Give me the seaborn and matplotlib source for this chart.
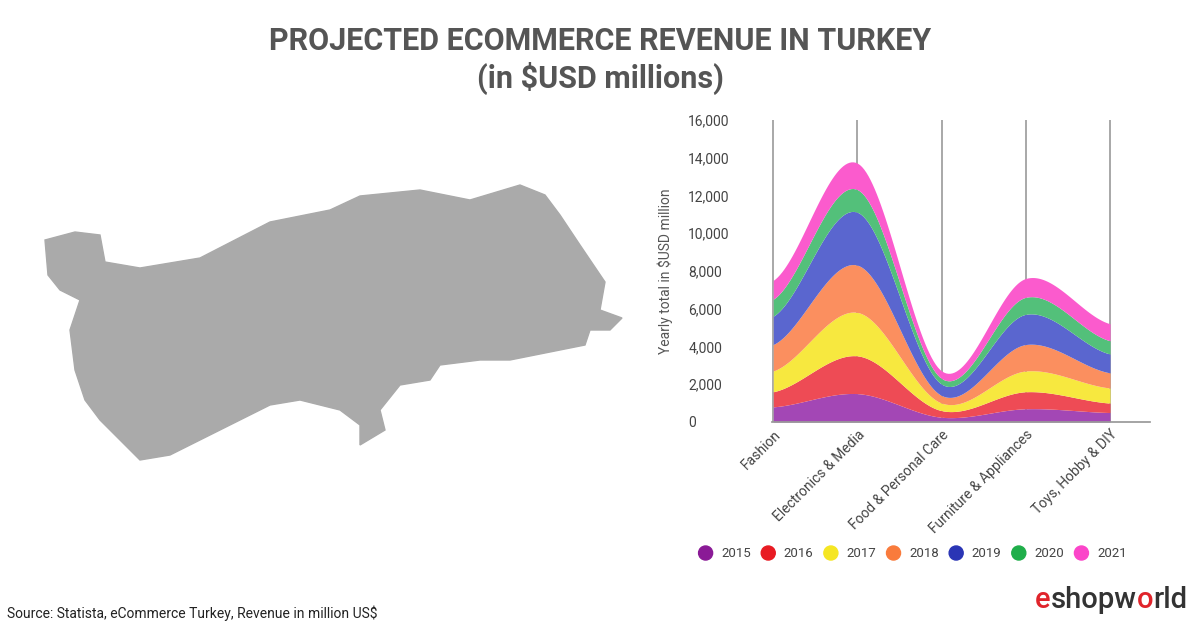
import numpy as np
import matplotlib
matplotlib.use("Agg")
import matplotlib.pyplot as plt
import seaborn as sns
from matplotlib.patches import Polygon, Ellipse

sns.set_theme(style="white")
plt.rcParams['font.family'] = ['Roboto', 'DejaVu Sans']

categories = ["Fashion", "Electronics & Media", "Food & Personal Care", "Furniture & Appliances", "Toys, Hobby & DIY"]
years = ["2015", "2016", "2017", "2018", "2019", "2020", "2021"]
v2015 = [800, 1500, 250, 700, 500]
v2016 = [800, 2000, 350, 900, 500]
v2017 = [1100, 2300, 400, 1100, 800]
v2018 = [1400, 2500, 400, 1400, 800]
v2019 = [1500, 2800, 600, 1600, 1000]
v2020 = [900, 1200, 300, 900, 700]
v2021 = [1000, 1400, 400, 1000, 900]
series = [v2015, v2016, v2017, v2018, v2019, v2020, v2021]
colors = ["#a347b5", "#ee4b55", "#f7e83f", "#fb8f5f", "#5a66cf", "#53c07a", "#fb5bcd"]
legend_colors = ["#8a1a96", "#e81b23", "#f5e623", "#f97b3c", "#2a35b5", "#1fae4a", "#fb45c9"]

fig = plt.figure(figsize=(12, 6.27), dpi=100)

def smooth(y, n=40):
    y = np.asarray(y, float)
    p = np.concatenate([[y[0]], y, [y[-1]]])
    xs, ys = [], []
    for i in range(len(y) - 1):
        p0, p1, p2, p3 = p[i], p[i+1], p[i+2], p[i+3]
        t = np.linspace(0, 1, n, endpoint=False)
        yy = 0.5 * ((2*p1) + (-p0+p2)*t + (2*p0-5*p1+4*p2-p3)*t**2 + (-p0+3*p1-3*p2+p3)*t**3)
        xs.append(i + t); ys.append(yy)
    xs.append([len(y)-1]); ys.append([y[-1]])
    return np.concatenate(xs), np.concatenate(ys)

ax = fig.add_axes([0.643, 0.327, 0.315, 0.482])
cum = np.zeros(len(categories))
prev_s = None
for s, c in zip(series, colors):
    cum = cum + np.array(s)
    xs, top = smooth(cum)
    bottom = np.zeros_like(top) if prev_s is None else prev_s
    ax.fill_between(xs, bottom, top, color=c, lw=0, zorder=2)
    prev_s = top
ax.set_xlim(-0.02, 4.47)
ax.set_ylim(0, 16000)
for i in range(len(categories)):
    ax.axvline(i, color="#999999", lw=1.2, zorder=1)
ax.set_xticks(range(len(categories)))
ax.set_xticklabels(categories, rotation=45, ha="right", rotation_mode="anchor", fontsize=10, color="#444444")
ax.set_yticks(np.arange(0, 16001, 2000))
ax.set_yticklabels([f"{v:,}" for v in range(0, 16001, 2000)], fontsize=10, color="#444444")
ax.tick_params(axis="y", pad=60, length=0)
ax.tick_params(axis="x", length=0, pad=4)
for yl in ax.get_yticklabels():
    yl.set_ha("left")
ax.set_ylabel("Yearly total in $USD million", fontsize=10, color="#555555")
ax.yaxis.set_label_coords(-0.26, 0.5)
for sp in ["top", "right", "left"]:
    ax.spines[sp].set_visible(False)
ax.spines["bottom"].set_color("#999999")

for i, (yr, c) in enumerate(zip(years, legend_colors)):
    x = 0.588 + i * 0.0522
    fig.patches.append(Ellipse((x, 0.118), 0.0117, 0.0224, color=c, transform=fig.transFigure, figure=fig))
    fig.text(x + 0.013, 0.118, yr, fontsize=9.5, va="center", color="#444444")

fig.text(0.5, 0.935, "PROJECTED ECOMMERCE REVENUE IN TURKEY", ha="center", va="center",
         fontsize=22, fontweight="bold", color="#555555")
fig.text(0.5, 0.875, "(in $USD millions)", ha="center", va="center",
         fontsize=22, fontweight="bold", color="#555555")

outline = [(45,240),(75,232),(100,235),(105,262),(140,268),(200,258),(270,222),(330,210),(360,196),(420,190),(470,200),
           (520,185),(545,195),(560,215),(580,245),(605,282),(600,310),(622,318),(610,330),(590,330),(585,345),
           (560,350),(510,360),(480,360),(440,365),(430,380),(400,385),(380,410),(385,430),(360,445),(360,425),
           (340,410),(300,400),(270,405),(240,420),(200,440),(170,455),(140,460),(120,440),(100,420),(85,400),
           (75,370),(70,330),(80,300),(60,290),(48,275)]
pts = [(x/1200, 1 - y/627) for x, y in outline]
fig.patches.append(Polygon(pts, closed=True, color="#aaaaaa", transform=fig.transFigure, figure=fig))

fig.text(0.006, 0.015, "Source: Statista, eCommerce Turkey, Revenue in million US$", fontsize=10, color="#222222")

renderer = fig.canvas.get_renderer()
x = 1035
for part, col in [("e", "#e0242b"), ("shopw", "#333333"), ("o", "#e0242b"), ("rld", "#333333")]:
    t = fig.text(x/1200, 0.03, part, fontsize=21, color=col, fontweight="medium")
    x += t.get_window_extent(renderer).width

fig.savefig("out.png", dpi=100)
